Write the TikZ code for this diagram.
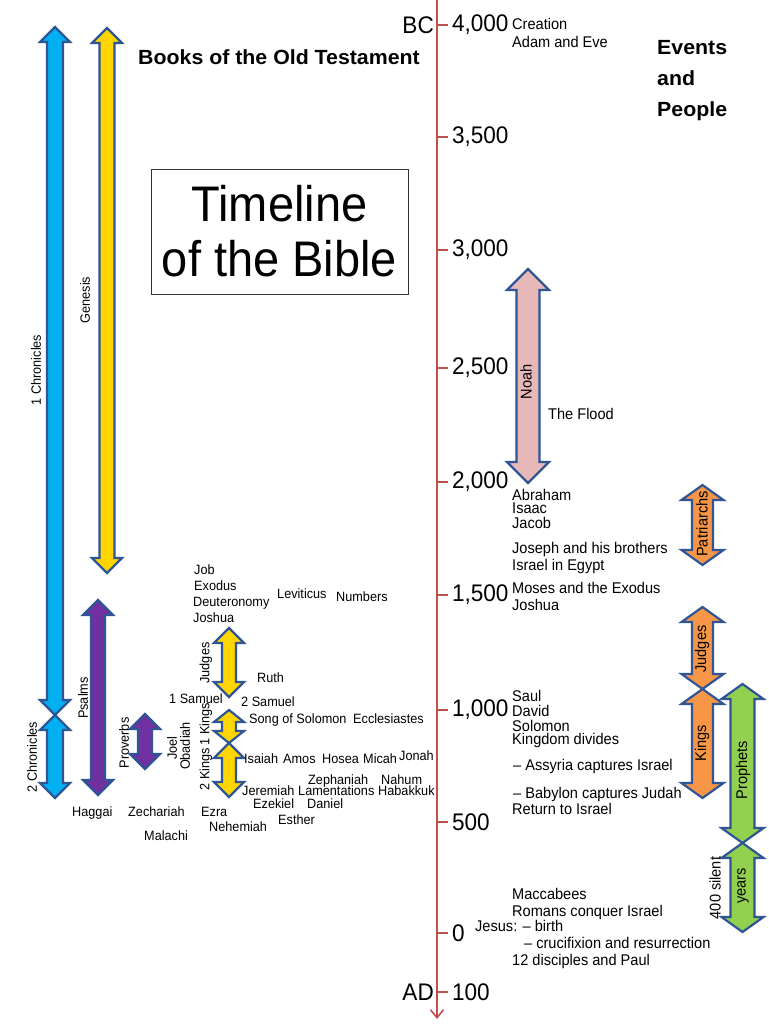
\documentclass[tikz,border=0pt]{standalone}
\usepackage{fontspec}
\setmainfont{Liberation Sans}[FakeStretch=0.94, BoldFeatures={FakeStretch=1.04}]
\usetikzlibrary{arrows.meta}

\definecolor{edgeblue}{HTML}{2F5597}
\definecolor{axisred}{HTML}{C0504D}
\definecolor{chronblue}{HTML}{00B0F0}
\definecolor{bookyellow}{HTML}{FFD500}
\definecolor{bookpurple}{HTML}{7030A0}
\definecolor{noahpink}{HTML}{E6B9B8}
\definecolor{eraorange}{HTML}{F79646}
\definecolor{prophgreen}{HTML}{92D050}

\tikzset{
  arrowbox/.style={draw=edgeblue, line width=2.2pt, line join=miter},
  book/.style={font=\fontsize{13.5}{15}\selectfont, anchor=west, inner sep=0pt, text height=1.5ex, text depth=.25ex},
  sidebook/.style={font=\fontsize{13.5}{15}\selectfont, rotate=90, inner sep=0pt},
  erabook/.style={font=\fontsize{15.5}{17}\selectfont, rotate=90, inner sep=0pt},
  event/.style={font=\fontsize{15.5}{17}\selectfont, anchor=west, inner sep=0pt, text height=1.5ex, text depth=.25ex},
  ticklabel/.style={font=\fontsize{24}{26}\selectfont, anchor=west, inner sep=0pt, xshift=3pt},
  heading/.style={font=\bfseries\fontsize{20.5}{31}\selectfont, inner sep=0pt},
  axisline/.style={draw=axisred, line width=2pt}
}

% x, top tip, bottom tip, fill, shaft half width, head half width, head length
\newcommand{\bookarrow}[7]{%
  \filldraw[arrowbox, fill=#4] (#1,#2) -- ({#1+#6},{#2+#7}) -- ({#1+#5},{#2+#7})
    -- ({#1+#5},{#3-#7}) -- ({#1+#6},{#3-#7}) -- (#1,#3) -- ({#1-#6},{#3-#7})
    -- ({#1-#5},{#3-#7}) -- ({#1-#5},{#2+#7}) -- ({#1-#6},{#2+#7}) -- cycle;}

\begin{document}
\begin{tikzpicture}[x=1pt, y=-1pt]
  \useasboundingbox (0,0) rectangle (768,1024);

  \coordinate (axtop) at (437,0);
  \coordinate (axbot) at (437,1019);
  \draw[axisline, -{Straight Barb[length=8pt, width=13pt, line width=1.6pt]}] (axtop) -- (axbot);
  \foreach \ty/\lab [count=\i] in {25/{4,000},137/{3,500},250/{3,000},368/{2,500},482/{2,000},595/{1,500},710/{1,000},822/500,933/0,992/100} {
    \coordinate (k\i) at (437,\ty);
    \draw[axisline] (k\i) -- ++(11,0) node[ticklabel] (tick\i) {\lab};
  }
  \node[ticklabel, anchor=east, xshift=0pt] (bc) at (431,25) {BC};
  \node[ticklabel, anchor=east, xshift=0pt] (ad) at (431,992) {AD};

  \node[heading] (books) at (279,57) {Books of the Old Testament};
  \node[heading, anchor=west, align=left] (people) at (657,81) {Events\\and\\People};
  \node[draw=black!80, line width=0.8pt, minimum width=257pt, minimum height=125pt,
        align=center, font=\fontsize{50}{55}\selectfont] (title) at (279.5,231.5) {Timeline\\of the Bible};

  \bookarrow{55}{27}{715}{chronblue}{8}{15}{15}
  \bookarrow{55}{715}{798}{chronblue}{8}{15}{15}
  \bookarrow{107}{28}{573}{bookyellow}{7.5}{15}{15}
  \bookarrow{98}{600}{795}{bookpurple}{7}{15}{15}
  \bookarrow{145}{714}{769}{bookpurple}{7}{15}{15}
  \bookarrow{229}{628}{697}{bookyellow}{7}{15}{15}
  \bookarrow{229}{710}{743}{bookyellow}{7}{15}{12}
  \bookarrow{229}{743}{797}{bookyellow}{7}{15}{15}

  \node[sidebook] (chron1) at (36,370) {1 Chronicles};
  \node[sidebook] (chron2) at (32,757) {2 Chronicles};
  \node[sidebook] (gen) at (85,300) {Genesis};
  \node[sidebook] (psalms) at (83,698) {Psalms};
  \node[sidebook] (prov) at (124,743) {Proverbs};
  \node[sidebook] (joel) at (172,748) {Joel};
  \node[sidebook] (obad) at (185,746) {Obadiah};
  \node[sidebook] (judg) at (206,663) {Judges};
  \node[sidebook] (kings1) at (206,724) {1 Kings};
  \node[sidebook] (kings2) at (206,769) {2 Kings};

  \node[book] (job) at (194,571) {Job};
  \node[book] (exod) at (194,587) {Exodus};
  \node[book] (deut) at (193,603) {Deuteronomy};
  \node[book] (josh) at (193,619) {Joshua};
  \node[book] (lev) at (277,595) {Leviticus};
  \node[book] (num) at (336,598) {Numbers};
  \node[book] (ruth) at (257,679) {Ruth};
  \node[book] (sam1) at (169,700) {1 Samuel};
  \node[book] (sam2) at (241,703) {2 Samuel};
  \node[book] (song) at (249,720) {Song of Solomon};
  \node[book] (eccl) at (353,720) {Ecclesiastes};
  \node[book] (isa) at (244,760) {Isaiah};
  \node[book] (amos) at (283,760) {Amos};
  \node[book] (hos) at (322,760) {Hosea};
  \node[book] (mic) at (363,760) {Micah};
  \node[book] (jonah) at (399,757) {Jonah};
  \node[book] (zeph) at (308,781) {Zephaniah};
  \node[book] (nah) at (381,781) {Nahum};
  \node[book] (jer) at (242,792) {Jeremiah};
  \node[book] (lam) at (298,792) {Lamentations};
  \node[book] (hab) at (378,792) {Habakkuk};
  \node[book] (ezek) at (253,805) {Ezekiel};
  \node[book] (dan) at (307,805) {Daniel};
  \node[book] (hag) at (72,813) {Haggai};
  \node[book] (zech) at (128,813) {Zechariah};
  \node[book] (ezra) at (201,813) {Ezra};
  \node[book] (esth) at (278,821) {Esther};
  \node[book] (neh) at (209,828) {Nehemiah};
  \node[book] (mal) at (144,837) {Malachi};

  \bookarrow{528}{269}{483}{noahpink}{11.5}{21}{21}
  \bookarrow{702.5}{485}{565}{eraorange}{10.5}{21}{15}
  \bookarrow{702.5}{607}{689}{eraorange}{10.5}{21}{15}
  \bookarrow{702.5}{689}{798}{eraorange}{10.5}{21}{15}
  \bookarrow{742.5}{684}{843}{prophgreen}{12}{21}{15}
  \bookarrow{742.5}{843}{932}{prophgreen}{12}{21}{15}

  \node[erabook] (noah) at (526,382) {Noah};
  \node[erabook] (patr) at (702,524) {Patriarchs};
  \node[erabook] (judges) at (702,649) {Judges};
  \node[erabook] (kings) at (702,743) {Kings};
  \node[erabook] (proph) at (743,770) {Prophets};
  \node[erabook] (silent) at (715,888) {400 silent};
  \node[erabook] (years) at (743,886) {years};

  \node[event] (creat) at (512,26) {Creation};
  \node[event] (adam) at (512,44) {Adam and Eve};
  \node[event] (flood) at (548,416) {The Flood};
  \node[event] (abr) at (512,497) {Abraham};
  \node[event] (isaac) at (512,510) {Isaac};
  \node[event] (jacob) at (512,525) {Jacob};
  \node[event] (joseph) at (512,550) {Joseph and his brothers};
  \node[event] (egypt) at (512,567) {Israel in Egypt};
  \node[event] (moses) at (512,590) {Moses and the Exodus};
  \node[event] (joshua) at (512,607) {Joshua};
  \node[event] (saul) at (512,698) {Saul};
  \node[event] (david) at (512,713) {David};
  \node[event] (solomon) at (512,728) {Solomon};
  \node[event] (divide) at (512,741) {Kingdom divides};
  \node[event] (assyria) at (513,767) {-- Assyria captures Israel};
  \node[event] (babylon) at (513,795) {-- Babylon captures Judah};
  \node[event] (return) at (512,811) {Return to Israel};
  \node[event] (macc) at (512,896) {Maccabees};
  \node[event] (rome) at (512,913) {Romans conquer Israel};
  \node[event] (birth) at (475,928) {Jesus: -- birth};
  \node[event] (cross) at (524,945) {-- crucifixion and resurrection};
  \node[event] (paul) at (512,962) {12 disciples and Paul};
\end{tikzpicture}
\end{document}
